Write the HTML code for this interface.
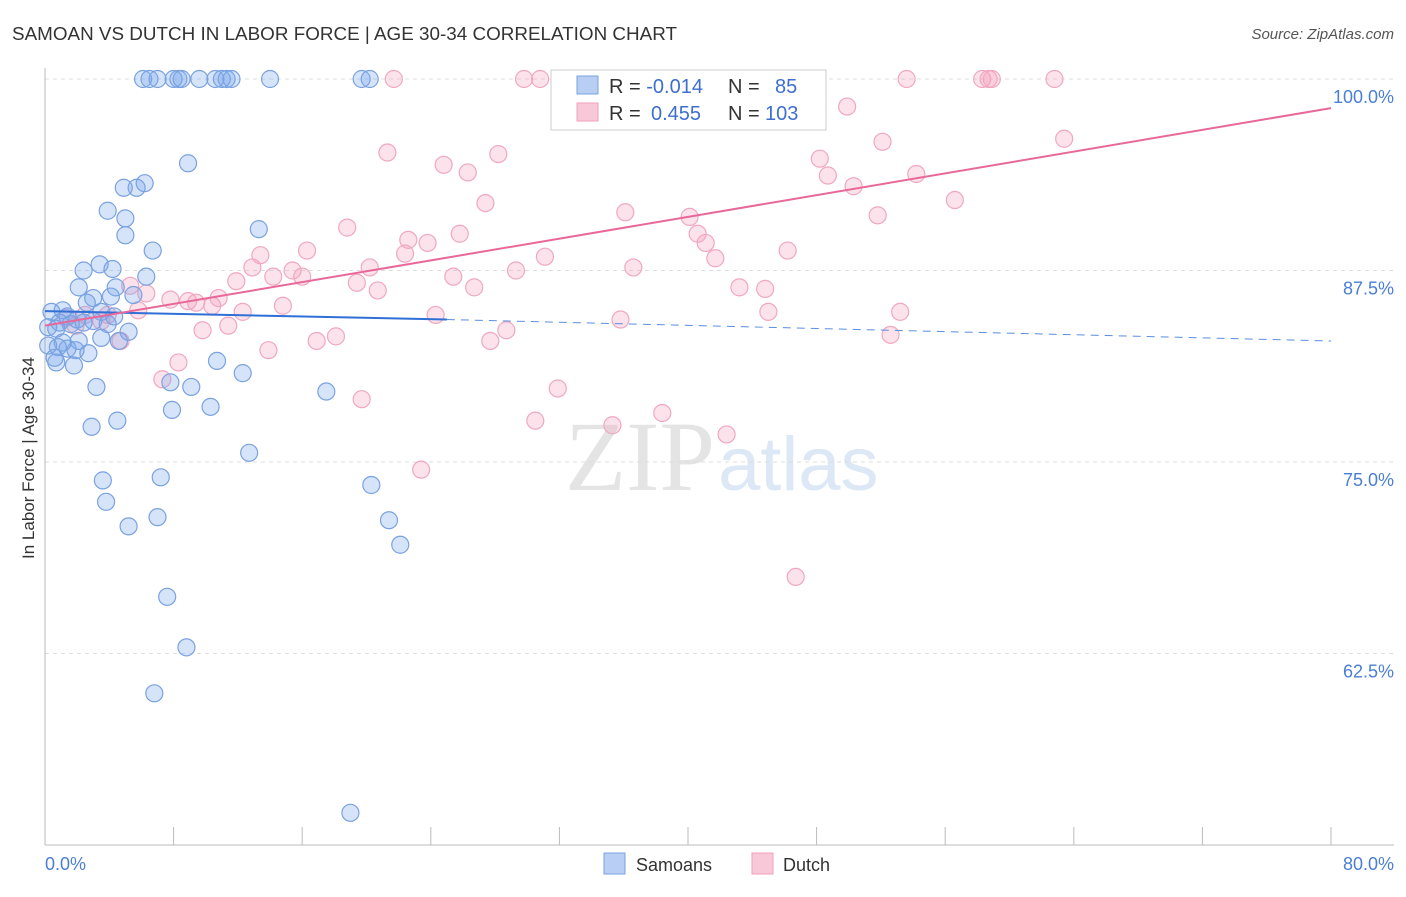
<!DOCTYPE html>
<html><head><meta charset="utf-8"><style>
body{margin:0;background:#fff;font-family:"Liberation Sans",sans-serif}
</style></head><body>
<svg id="chart" width="1406" height="892" xmlns="http://www.w3.org/2000/svg" font-family="Liberation Sans, sans-serif">
<text x="12" y="40" font-size="18" fill="#333" textLength="665" lengthAdjust="spacingAndGlyphs">SAMOAN VS DUTCH IN LABOR FORCE | AGE 30-34 CORRELATION CHART</text>
<text x="1394" y="39" font-size="15" fill="#555" text-anchor="end" font-style="italic">Source: ZipAtlas.com</text>
<text x="715" y="490" font-size="100" fill="#e4e4e4" text-anchor="end" font-family="Liberation Serif, serif">ZIP</text>
<text x="718" y="490" font-size="76" fill="#dce8f6">atlas</text>
<g id="grid"></g><g id="axes"></g><g id="pts"></g><g id="lines"></g>
<text transform="translate(34,458) rotate(-90)" font-size="17" fill="#333" text-anchor="middle">In Labor Force | Age 30-34</text>
<text x="45" y="870" font-size="18" fill="#4a7fd4">0.0%</text>
<text x="1394" y="870" font-size="18" fill="#4a7fd4" text-anchor="end">80.0%</text>
<g>
<rect x="551" y="70" width="275" height="60" fill="#fff" stroke="#ccc"/>
<rect x="577" y="76" width="21" height="18" fill="#b8cff3" stroke="#7aa2e0"/>
<rect x="577" y="103" width="21" height="18" fill="#f8c8d8" stroke="#f0a0bb"/>
<text x="609" y="93" font-size="20" fill="#333">R = <tspan fill="#3d6fd1">-0.014</tspan><tspan x="728">N = </tspan><tspan fill="#3d6fd1" x="775">85</tspan></text>
<text x="609" y="120" font-size="20" fill="#333">R = <tspan fill="#3d6fd1" x="651">0.455</tspan><tspan x="728">N = </tspan><tspan fill="#3d6fd1" x="765">103</tspan></text>
</g>
<g>
<rect x="604" y="853" width="21" height="21" fill="#b8cff3" stroke="#7aa2e0"/>
<text x="636" y="871" font-size="18" fill="#333">Samoans</text>
<rect x="752" y="853" width="21" height="21" fill="#f8c8d8" stroke="#f0a0bb"/>
<text x="783" y="871" font-size="18" fill="#333">Dutch</text>
</g>
</svg>
<script>
const yTicks=[100,87.5,75,62.5];
const yTickLabels=["100.0%","87.5%","75.0%","62.5%"];
const xTicks=[0,8,16,24,32,40,48,56,64,72,80];
const samoanX=[6.1,6.5,7.0,8.0,8.3,8.5,9.6,10.6,11.0,11.3,11.6,14.0,19.7,20.2,8.9,6.2,5.7,4.9,3.9,5.0,5.0,6.7,13.3,3.4,2.4,4.2,6.3,2.1,4.4,3.0,2.6,4.1,5.5,1.1,0.4,1.4,2.0,3.5,4.3,0.9,1.6,2.4,3.0,3.9,0.2,0.7,5.2,3.5,2.1,1.1,0.2,0.8,1.4,1.9,2.7,4.6,0.6,0.7,1.8,10.7,12.3,7.8,3.2,9.1,17.5,7.9,10.3,4.5,2.9,12.7,7.2,3.6,20.3,3.8,7.0,21.4,5.2,22.1,7.6,8.8,6.8,19.0];
const samoanY=[100,100,100,100,100,100,100,100,100,100,100,100,100,100,94.5,93.2,92.9,92.9,91.4,90.9,89.8,88.8,90.2,87.9,87.5,87.6,87.1,86.4,86.4,85.7,85.4,85.8,85.9,84.9,84.8,84.5,84.3,84.8,84.5,84.1,84.0,84.1,84.2,84.0,83.8,83.7,83.5,83.1,82.9,82.8,82.6,82.5,82.4,82.3,82.1,82.9,81.8,81.5,81.3,81.6,80.8,80.2,79.9,79.9,79.6,78.4,78.6,77.7,77.3,75.6,74.0,73.8,73.5,72.4,71.4,71.2,70.8,69.6,66.2,62.9,59.9,52.1];
const dutchX=[21.7,29.8,30.8,32.4,32.9,37.2,39.7,41.5,44.6,47.9,53.6,58.3,58.7,58.9,62.8,49.9,39.5,52.1,63.4,21.3,28.2,24.8,26.3,48.2,48.7,50.3,54.2,56.6,27.4,36.1,40.1,51.8,18.8,25.8,40.6,22.6,23.8,41.1,16.3,13.4,31.1,22.4,41.7,46.2,20.2,12.9,15.4,14.2,16.0,29.3,36.6,25.4,11.9,19.4,26.7,20.7,43.2,44.8,5.3,6.3,7.8,8.9,9.4,10.4,10.8,14.8,12.3,45.0,53.2,24.3,35.8,3.9,5.8,2.5,3.5,1.3,1.9,11.4,9.8,28.7,18.1,16.9,27.7,52.6,4.7,13.9,8.3,7.3,31.9,19.7,38.4,30.5,35.3,42.4,23.4,46.7];
const dutchY=[100,100,100,100,100,100,100,100,100,100,100,100,100,100,100,98.2,97.4,95.9,96.1,95.2,95.1,94.4,93.9,94.8,93.7,93.0,93.8,92.1,91.9,91.3,91.0,91.1,90.3,89.9,89.9,89.5,89.3,89.3,88.8,88.5,88.4,88.6,88.3,88.8,87.7,87.7,87.5,87.1,87.1,87.5,87.7,87.1,86.8,86.7,86.4,86.2,86.4,86.3,86.5,86.0,85.6,85.5,85.4,85.2,85.7,85.2,84.8,84.8,84.8,84.6,84.3,84.6,84.9,84.6,84.2,84.4,83.9,83.9,83.6,83.6,83.2,82.9,82.9,83.3,82.9,82.3,81.5,80.4,79.8,79.1,78.2,77.7,77.4,76.8,74.5,67.5];
const samoanLine=[[0,84.85],[25,84.3],[80,82.9]];
const dutchLine=[[0,83.9],[80,98.1]];
const NS="http://www.w3.org/2000/svg";
const X=v=>45+v*(1286/80);
const Y=v=>79+(100-v)*(766/50);
function mk(tag,attrs,parent){const e=document.createElementNS(NS,tag);for(const k in attrs)e.setAttribute(k,attrs[k]);parent.appendChild(e);return e;}
const grid=document.getElementById('grid'),axes=document.getElementById('axes'),pts=document.getElementById('pts'),lines=document.getElementById('lines');
yTicks.forEach((t,i)=>{
 const l=mk('line',{x1:45,x2:1394,y1:Y(t),y2:Y(t),stroke:'#ddd','stroke-dasharray':'4,4'},grid);
 
 
 const tx=mk('text',{x:1394,y:Y(t)+24,'font-size':18,fill:'#4a7fd4','text-anchor':'end'},grid);
 tx.textContent=yTickLabels[i];
 
 
});
const ya=mk('line',{x1:45,x2:45,y1:68,y2:845,stroke:'#bbb'},axes);


const xa=mk('line',{x1:45,x2:1394,y1:845,y2:845,stroke:'#bbb'},axes);


xTicks.forEach(t=>{
 const l=mk('line',{x1:X(t),x2:X(t),y1:827,y2:845,stroke:'#bbb'},axes);
 
 
});
dutchX.forEach((x,i)=>{
 const c=mk('circle',{cx:X(x),cy:Y(dutchY[i]),r:8.5,fill:'rgba(244,160,190,0.3)',stroke:'#f0a8c0','stroke-width':1.2},pts);
 
 
});
samoanX.forEach((x,i)=>{
 const c=mk('circle',{cx:X(x),cy:Y(samoanY[i]),r:8.5,fill:'rgba(120,165,235,0.3)',stroke:'#7aa2e0','stroke-width':1.2},pts);
 
 
});
const s1=mk('line',{x1:X(samoanLine[0][0]),y1:Y(samoanLine[0][1]),x2:X(samoanLine[1][0]),y2:Y(samoanLine[1][1]),stroke:'#2f6fd6','stroke-width':2},lines);


const s2=mk('line',{x1:X(samoanLine[1][0]),y1:Y(samoanLine[1][1]),x2:X(samoanLine[2][0]),y2:Y(samoanLine[2][1]),stroke:'#5a8ee0','stroke-width':1,'stroke-dasharray':'8,6'},lines);


const d1=mk('line',{x1:X(dutchLine[0][0]),y1:Y(dutchLine[0][1]),x2:X(dutchLine[1][0]),y2:Y(dutchLine[1][1]),stroke:'#e8689a','stroke-width':2},lines);


</script>
</body></html>
